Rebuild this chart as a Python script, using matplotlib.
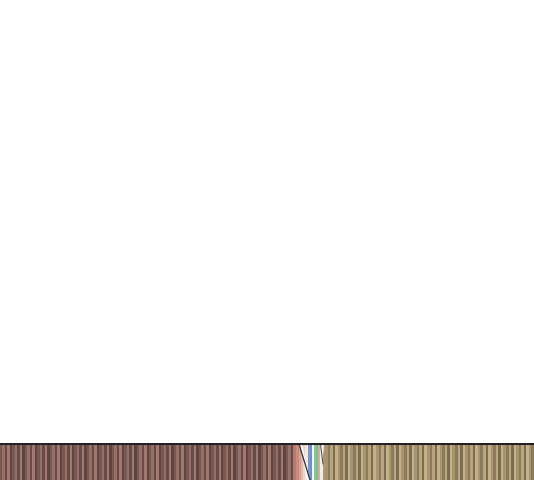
import numpy as np
import matplotlib.pyplot as plt
from matplotlib.patches import Polygon

# stripe groups across the strip (left brown, middle mixed, right tan)
brown_count = 118
middle_colors = ['#b9796d', '#c98c80', '#d8a093', '#e3b5ab', '#eed2cc', '#f5e6e2',
                 '#7897d2', '#6f8fcc', '#f4f6f8', '#8fc597', '#83bb8c', '#c9b7a6',
                 '#f2ece6', '#b39674']
middle_widths = [3, 3, 2, 2, 2, 3, 2, 2, 2, 2, 2, 2, 3, 2]
tan_count = 82
stripe_height = 1.0

brown_shades = ['#7a5852', '#957069', '#694b46', '#a07a72', '#5f4440']
tan_shades = ['#a8956f', '#8c7b5a', '#b9a57e', '#7d6d50', '#c4b18b']

fig = plt.figure(figsize=(5.34, 4.8), dpi=100)
ax = fig.add_axes([0, 0, 1, 37 / 480])

x = 0.0
w_brown = 293 / brown_count
for i in range(brown_count):
    ax.bar(x, stripe_height, width=w_brown, align='edge',
           color=brown_shades[i % len(brown_shades)], linewidth=0)
    x += w_brown

mid_start = x
for c, w in zip(middle_colors, middle_widths):
    ax.bar(x, stripe_height, width=w, align='edge', color=c, linewidth=0)
    x += w

w_tan = (534 - x) / tan_count
for i in range(tan_count):
    ax.bar(x, stripe_height, width=w_tan, align='edge',
           color=tan_shades[i % len(tan_shades)], linewidth=0)
    x += w_tan

# diagonal ribbons in the middle
ax.add_patch(Polygon([[mid_start + 7, 1], [mid_start + 9, 1], [mid_start + 17, 0], [mid_start + 14, 0]],
                     closed=True, color='#ffffff', lw=0))
ax.plot([mid_start + 6, mid_start + 17], [1, 0], color='#3a3a3a', lw=1.0)
ax.add_patch(Polygon([[mid_start + 28, 1], [mid_start + 31, 1], [mid_start + 29.5, 0.55]],
                     closed=True, color='#ffffff', lw=0))
ax.plot([mid_start + 27.5, mid_start + 30], [1, 0.45], color='#555555', lw=0.8)

ax.axhline(1.0, color='#222222', lw=1.5)
ax.set_xlim(0, 534)
ax.set_ylim(0, 1.03)
ax.axis('off')

fig.savefig('out.png', dpi=100)
